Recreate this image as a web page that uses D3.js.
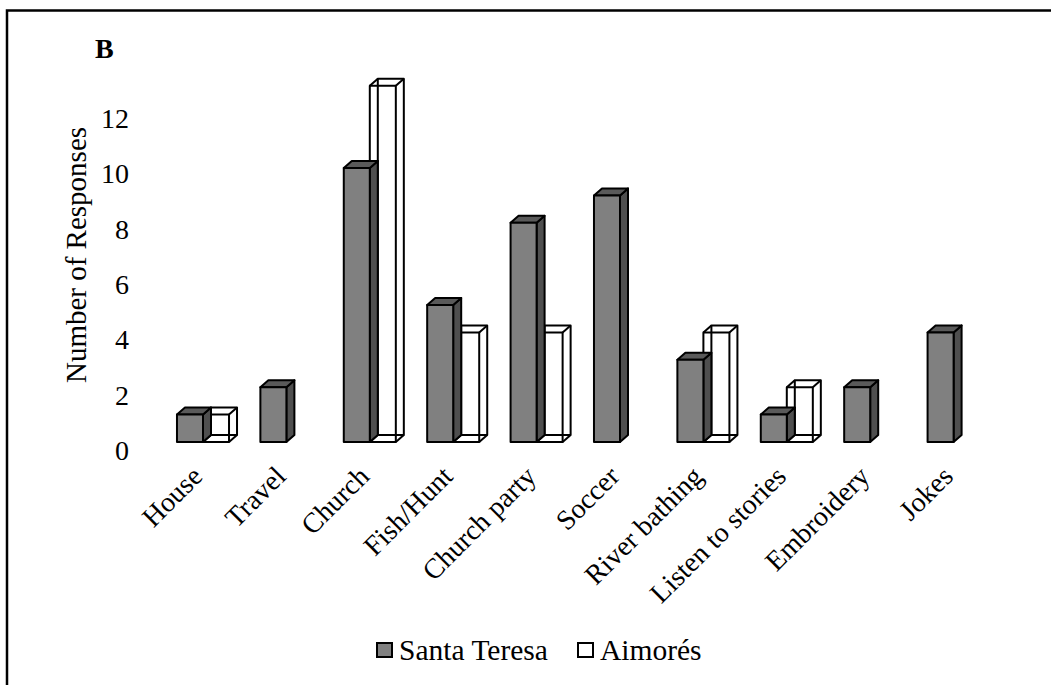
<!DOCTYPE html>
<html>
<head>
<meta charset="utf-8">
<script src="https://cdn.jsdelivr.net/npm/d3@7"></script>
<style>
  html, body { margin: 0; padding: 0; background: #fff; }
  svg { display: block; font-family: "Liberation Serif", "Times New Roman", serif; }
</style>
</head>
<body>
<svg id="chart" width="1051" height="685"></svg>
<script>
// Activities mentioned, per community
const categories = ["House", "Travel", "Church", "Fish/Hunt", "Church party", "Soccer",
                    "River bathing", "Listen to stories", "Embroidery", "Jokes"];
const seriesNames = ["Santa Teresa", "Aimorés"];
const santaTeresa = [1, 2, 10, 5, 8, 9, 3, 1, 2, 4];
const aimores     = [1, 0, 13, 4, 4, 0, 4, 2, 0, 0];
const yTicks = [0, 2, 4, 6, 8, 10, 12];

const svg = d3.select("#chart");

// outer frame (left and top edges)
svg.append("path")
  .attr("d", "M7,685 V10.5 H1051")
  .attr("fill", "none").attr("stroke", "#000").attr("stroke-width", 2.5);

svg.append("text").attr("x", 95).attr("y", 58)
  .attr("font-size", 28).attr("font-weight", "bold").text("B");

// scales
const x0 = d3.scaleBand().domain(categories).range([161.3, 995.3])
  .paddingInner(0.376).paddingOuter(0.188);
const x1 = d3.scaleBand().domain(seriesNames).range([0, x0.bandwidth()]);
const y = d3.scaleLinear().domain([0, 13]).range([442, 442 - 13 * 27.4]);
const yLab = d3.scaleLinear().domain([0, 12]).range([450, 118]);

const DX = 8, DY = 7; // 3D depth offset

// y tick labels
const yAxis = svg.append("g").attr("transform", "translate(129,0)")
  .call(d3.axisLeft(yLab).tickValues(yTicks).tickSize(0).tickPadding(0));
yAxis.select(".domain").remove();
yAxis.selectAll("text").attr("font-size", 28).attr("font-family", "Liberation Serif, serif")
  .attr("fill", "#000").attr("dy", "0.34em");

svg.append("text")
  .attr("transform", "translate(86,255) rotate(-90)")
  .attr("text-anchor", "middle").attr("font-size", 29).text("Number of Responses");

const rows = categories.map((c, i) => ({ c, st: santaTeresa[i], ai: aimores[i] }));

// Aimorés: white wireframe boxes (drawn first so Santa Teresa sits in front)
const gA = svg.append("g");
rows.filter(d => d.ai > 0).forEach(d => {
  const xl = x0(d.c) + x1("Aimorés"), w = x1.bandwidth();
  const yt = y(d.ai), yb = y(0);
  const g = gA.append("g").attr("stroke", "#000").attr("stroke-width", 2).attr("stroke-linejoin", "round");
  // back face
  g.append("rect").attr("x", xl + DX).attr("y", yt - DY).attr("width", w).attr("height", yb - yt)
    .attr("fill", "#fff");
  // front face
  g.append("rect").attr("x", xl).attr("y", yt).attr("width", w).attr("height", yb - yt)
    .attr("fill", "none");
  // connecting edges
  [[xl, yt], [xl + w, yt], [xl, yb], [xl + w, yb]].forEach(([px, py]) => {
    g.append("line").attr("x1", px).attr("y1", py).attr("x2", px + DX).attr("y2", py - DY);
  });
});

// Santa Teresa: solid grey boxes
const gS = svg.append("g");
rows.filter(d => d.st > 0).forEach(d => {
  const xl = x0(d.c) + x1("Santa Teresa"), w = x1.bandwidth();
  const yt = y(d.st), yb = y(0);
  const g = gS.append("g").attr("stroke", "#000").attr("stroke-width", 2).attr("stroke-linejoin", "round");
  g.append("path")
    .attr("d", `M${xl + w},${yt} L${xl + w + DX},${yt - DY} L${xl + w + DX},${yb - DY} L${xl + w},${yb} Z`)
    .attr("fill", "#4f4f4f");
  g.append("path")
    .attr("d", `M${xl},${yt} L${xl + DX},${yt - DY} L${xl + w + DX},${yt - DY} L${xl + w},${yt} Z`)
    .attr("fill", "#5a5a5a");
  g.append("rect").attr("x", xl).attr("y", yt).attr("width", w).attr("height", yb - yt)
    .attr("fill", "#808080");
});

// category labels, rotated
svg.append("g").selectAll("text").data(categories).join("text")
  .attr("transform", d => `translate(${x0(d) + x0.bandwidth() / 2 + 1},${478}) rotate(-45)`)
  .attr("text-anchor", "end").attr("font-size", 28).text(d => d);

// legend
const legend = svg.append("g");
const legendItems = [
  { name: seriesNames[0], fill: "#808080", x: 377 },
  { name: seriesNames[1], fill: "#fff", x: 578 }
];
legendItems.forEach(it => {
  legend.append("rect").attr("x", it.x).attr("y", 643).attr("width", 15).attr("height", 14)
    .attr("fill", it.fill).attr("stroke", "#000").attr("stroke-width", 2);
  legend.append("text").attr("x", it.x + 22).attr("y", 660).attr("font-size", 29.5).text(it.name);
});
</script>
</body>
</html>
